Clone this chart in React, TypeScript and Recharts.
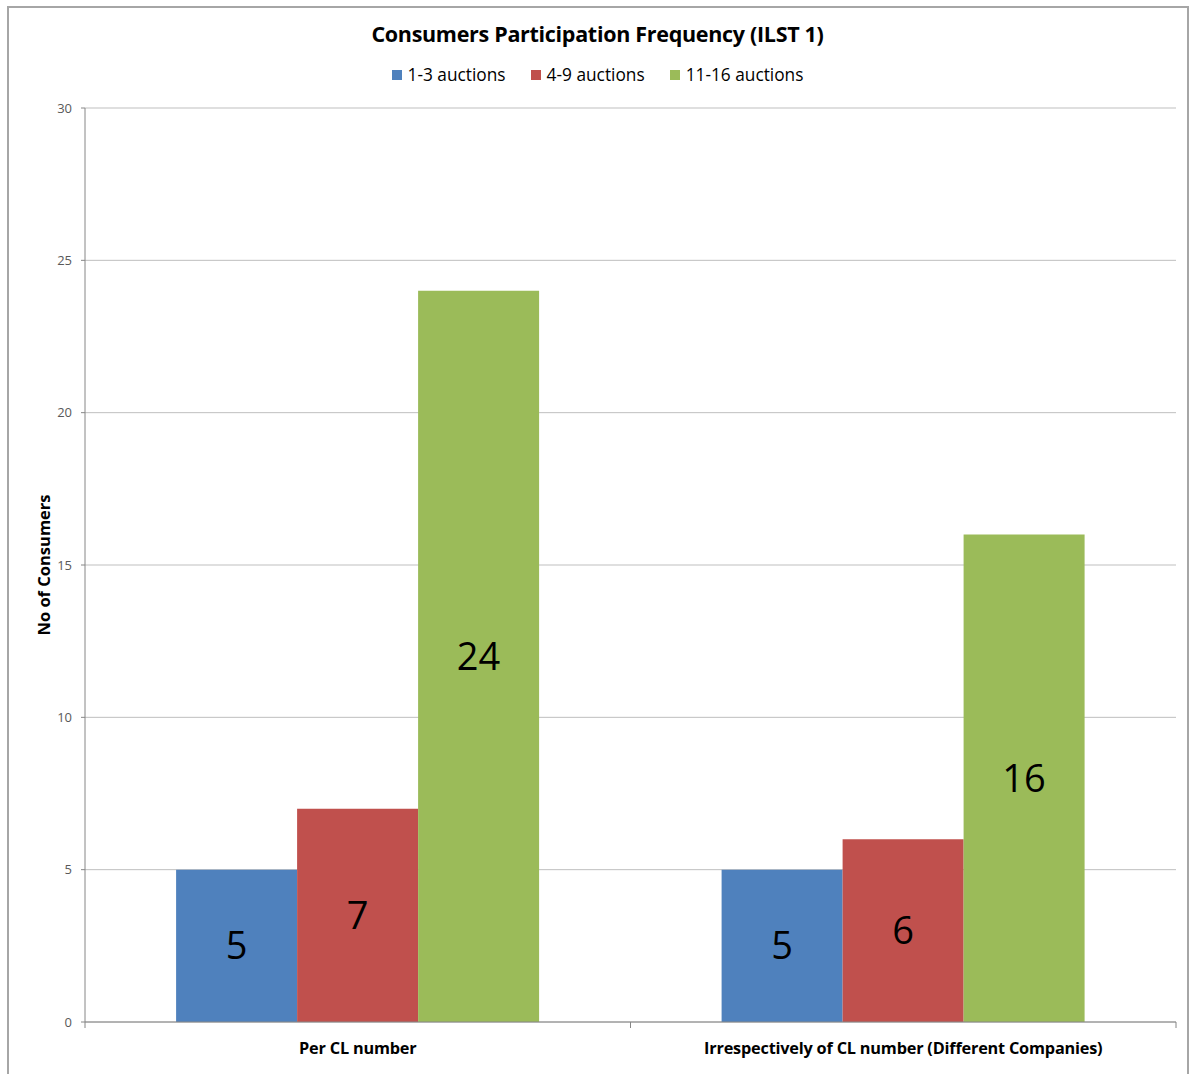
import React from "react";
import { BarChart, Bar, XAxis, YAxis, CartesianGrid, LabelList } from "recharts";

const categories = ["Per CL number", "Irrespectively of CL number (Different Companies)"];
const series1to3 = [5, 5];
const series4to9 = [7, 6];
const series11to16 = [24, 16];
const yTicks = [0, 5, 10, 15, 20, 25, 30];
const seriesNames = ["1-3 auctions", "4-9 auctions", "11-16 auctions"];
const seriesKeys = ["a", "b", "c"];
const seriesColors = ["#4F81BD", "#C0504D", "#9BBB59"];
const title = "Consumers Participation Frequency (ILST 1)";
const yLabel = "No of Consumers";

const data = categories.map((name, i) => ({
  name,
  a: series1to3[i],
  b: series4to9[i],
  c: series11to16[i],
}));

const FONT = "'Open Sans', sans-serif";
const W = 1195;
const H = 1074;
const LEFT = 85;
const RIGHT = 19;
const band = (W - LEFT - RIGHT) / categories.length;

const CatTick = (props: any) => {
  const { x, y, payload, index } = props;
  const half = band / 2;
  return (
    <g>
      <line x1={x - half} y1={y} x2={x - half} y2={y + 6} stroke="#868686" />
      {index === categories.length - 1 && (
        <line x1={x + half} y1={y} x2={x + half} y2={y + 6} stroke="#868686" />
      )}
      <text x={x} y={y + 32} textAnchor="middle" fontFamily={FONT} fontSize={16.3} fontWeight="bold" fill="#000" letterSpacing={-0.2}>
        {payload.value}
      </text>
    </g>
  );
};

export default function App() {
  return (
    <div style={{ position: "absolute", left: 0, top: 0, width: W, height: H, background: "#fff", fontFamily: FONT }}>
      <div style={{ position: "absolute", left: 7, top: 6, width: 1182, height: 1080, border: "2px solid #a6a6a6", boxSizing: "border-box" }} />
      <div style={{ position: "absolute", left: 0, top: 19, width: W, textAlign: "center", fontSize: 21.5, fontWeight: "bold", color: "#000", lineHeight: "30px", letterSpacing: -0.3 }}>
        {title}
      </div>
      <div style={{ position: "absolute", left: 0, top: 63, width: W, display: "flex", justifyContent: "center", fontSize: 17.3, color: "#000", lineHeight: "24px" }}>
        {seriesNames.map((n, i) => (
          <div key={n} style={{ display: "flex", alignItems: "center", marginRight: i < seriesNames.length - 1 ? 25 : 0 }}>
            <span style={{ width: 10, height: 10, background: seriesColors[i], display: "inline-block", marginRight: 6 }} />
            <span>{n}</span>
          </div>
        ))}
      </div>
      <div style={{ position: "absolute", left: 0, top: 0 }}>
        <BarChart
          width={W}
          height={H}
          data={data}
          margin={{ top: 108, right: RIGHT, bottom: 0, left: 0 }}
          barCategoryGap="16.7%"
          barGap={0}
        >
          <CartesianGrid horizontal vertical={false} stroke="#BFBFBF" />
          <XAxis
            dataKey="name"
            height={52}
            tickSize={0}
            tickMargin={0}
            tick={<CatTick />}
            axisLine={{ stroke: "#868686" }}
            tickLine={false}
            interval={0}
          />
          <YAxis
            width={LEFT}
            domain={[0, 30]}
            ticks={yTicks}
            tickSize={4}
            tickMargin={9}
            tick={{ fontFamily: FONT, fontSize: 13, fill: "#595959" }}
            axisLine={{ stroke: "#868686" }}
            tickLine={{ stroke: "#868686" }}
            label={{
              content: (p: any) => {
                const vb = p.viewBox || {};
                const cy = vb.y + vb.height / 2;
                return (
                  <text x={43} y={cy} transform={`rotate(-90, 43, ${cy})`} textAnchor="middle" dominantBaseline="central" fontFamily={FONT} fontSize={16.5} fontWeight="bold" fill="#000">
                    {yLabel}
                  </text>
                );
              },
            }}
          />
          {seriesKeys.map((k, i) => (
            <Bar key={k} dataKey={k} name={seriesNames[i]} fill={seriesColors[i]} isAnimationActive={false}>
              <LabelList dataKey={k} position="center" fontFamily={FONT} fontSize={38} fill="#000" />
            </Bar>
          ))}
        </BarChart>
      </div>
    </div>
  );
}
